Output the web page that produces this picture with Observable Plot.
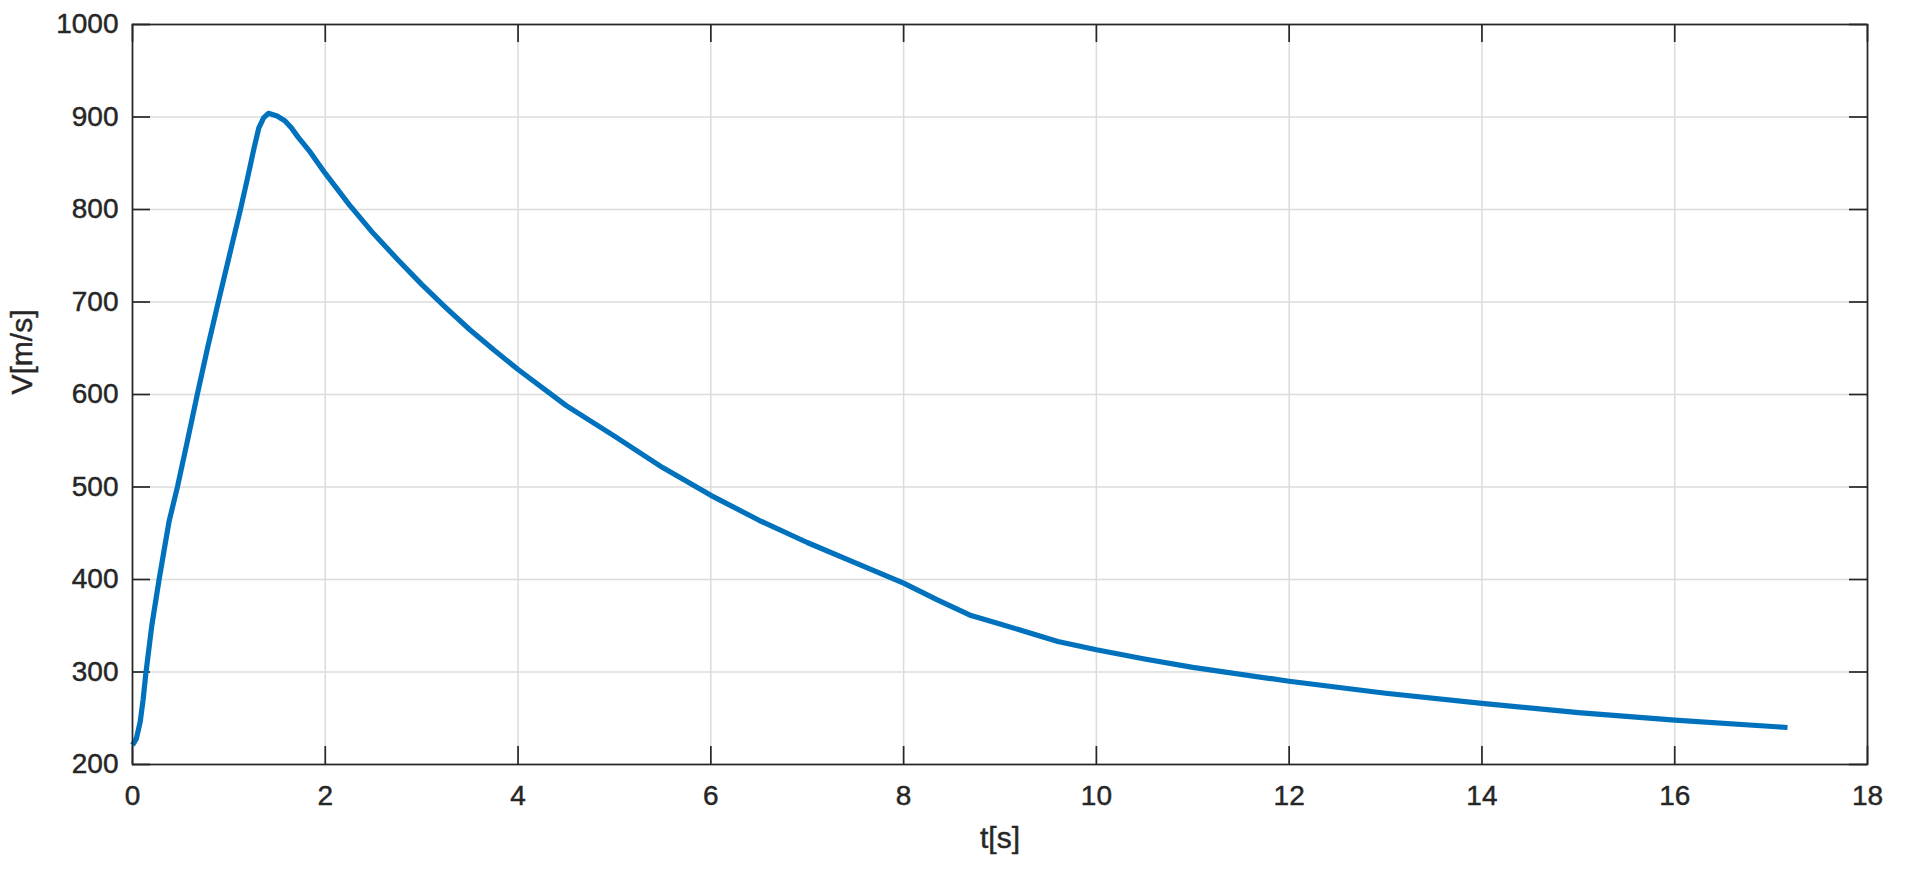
<!DOCTYPE html>
<html>
<head>
<meta charset="utf-8">
<script src="https://cdn.jsdelivr.net/npm/d3@7"></script>
<script src="https://cdn.jsdelivr.net/npm/@observablehq/plot@0.6"></script>
<style>
  html, body { margin: 0; padding: 0; background: #ffffff; }
  #chart svg { display: block; }
  #chart svg text { stroke: #262626; stroke-width: 0.45px; }
</style>
</head>
<body>
<div id="chart"></div>
<script>
// Time [s]
const tValues = [0, 0.04, 0.08, 0.11, 0.138, 0.2, 0.276, 0.33, 0.38, 0.466, 0.57, 0.672, 0.78, 0.89, 1.0, 1.12, 1.2, 1.26, 1.31, 1.36, 1.41, 1.5, 1.58, 1.65, 1.72, 1.83, 2.0, 2.25, 2.5, 2.75, 3.0, 3.25, 3.5, 3.75, 4.0, 4.5, 5.0, 5.5, 6.0, 6.5, 7.0, 7.5, 8.0, 8.35, 8.7, 9.0, 9.6, 10.0, 10.5, 11.0, 12.0, 13.0, 14.0, 15.0, 16.0, 17.17];
// Velocity [m/s]
const vValues = [221, 228, 246, 270, 298, 350, 400, 433, 463, 500, 550, 600, 651, 700, 748, 800, 837, 866, 888, 899, 904, 901, 896, 888, 878, 864, 839, 805, 774, 746, 719, 694, 670, 648, 627, 588, 555, 521, 491, 464, 440, 418, 396, 378, 361, 352, 333, 324, 314, 305, 290, 277, 266, 256, 248, 240];
// Axis ticks
const xTicks = [0, 2, 4, 6, 8, 10, 12, 14, 16, 18];
const yTicks = [200, 300, 400, 500, 600, 700, 800, 900, 1000];
const xLabel = "t[s]";
const yLabel = "V[m/s]";

const data = tValues.map((t, i) => ({t, v: vValues[i]}));

const W = 1915, H = 877;
const mL = 132, mR = 48, mT = 24, mB = 113;
const plotW = W - mL - mR, plotH = H - mT - mB;
const tickLen = 18;
const ink = "#262626";
const gridColor = "#dcdcdc";
const font = "'Liberation Sans', Arial, Helvetica, sans-serif";

const chart = Plot.plot({
  width: W,
  height: H,
  marginLeft: mL,
  marginRight: mR,
  marginTop: mT,
  marginBottom: mB,
  style: {fontFamily: font, color: ink, background: "#ffffff", overflow: "visible"},
  x: {domain: [0, 18]},
  y: {domain: [200, 1000]},
  marks: [
    // grid
    Plot.ruleX(xTicks, {stroke: gridColor, strokeWidth: 1.5}),
    Plot.ruleY(yTicks, {stroke: gridColor, strokeWidth: 1.5}),
    // inward ticks (bottom, top, left, right)
    Plot.ruleX(xTicks, {stroke: ink, strokeWidth: 1.7, insetTop: plotH - tickLen}),
    Plot.ruleX(xTicks, {stroke: ink, strokeWidth: 1.7, insetBottom: plotH - tickLen}),
    Plot.ruleY(yTicks, {stroke: ink, strokeWidth: 1.7, insetRight: plotW - tickLen}),
    Plot.ruleY(yTicks, {stroke: ink, strokeWidth: 1.7, insetLeft: plotW - tickLen}),
    // data
    Plot.line(data, {x: "t", y: "v", stroke: "#0072BD", strokeWidth: 5.2, strokeLinejoin: "round", strokeLinecap: "butt"}),
    // frame
    Plot.frame({stroke: ink, strokeWidth: 1.7}),
    // tick labels
    Plot.axisX({ticks: xTicks, tickSize: 0, tickPadding: 21, fontSize: 28, label: null, tickFormat: d => String(d)}),
    Plot.axisY({ticks: yTicks, tickSize: 0, tickPadding: 14, fontSize: 28, label: null, tickFormat: d => String(d)}),
    // axis titles
    Plot.text([xLabel], {frameAnchor: "bottom", dy: 74, text: d => d, fontSize: 30, fill: ink, lineAnchor: "middle"}),
    Plot.text([yLabel], {frameAnchor: "left", dx: -110, text: d => d, fontSize: 30, fill: ink, rotate: -90, lineAnchor: "middle"})
  ]
});

document.getElementById("chart").appendChild(chart);
</script>
</body>
</html>
